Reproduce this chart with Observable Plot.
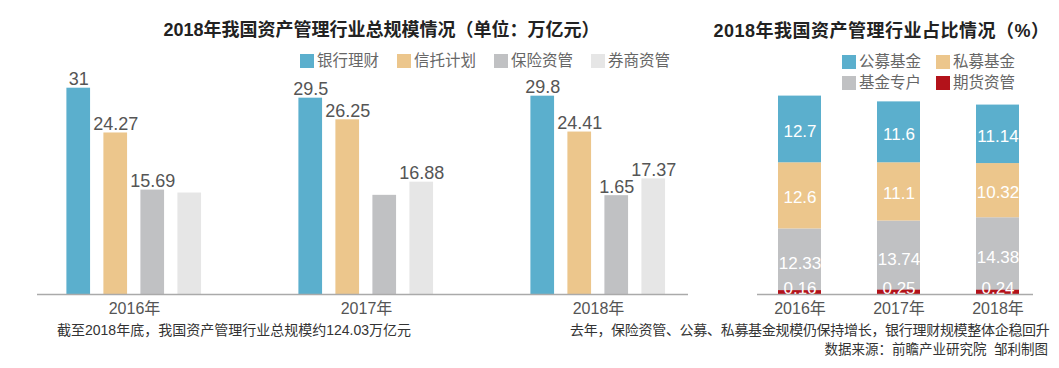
<!DOCTYPE html>
<html><head><meta charset="utf-8">
<script src="https://cdn.jsdelivr.net/npm/d3@7"></script>
<script src="https://cdn.jsdelivr.net/npm/@observablehq/plot@0.6"></script>
<style>
body{margin:0;background:#fff;font-family:"Liberation Sans","Noto Sans CJK SC",sans-serif;}
#page{position:relative;width:1059px;height:368px;overflow:hidden;}
.abs{position:absolute;white-space:nowrap;}
.title{font-size:18px;font-weight:bold;color:#222;line-height:20px;transform:translateX(-50%);}
.legend{display:flex;font-size:15.5px;color:#666;line-height:16px;}
.item{display:flex;align-items:center;}
.sw{width:14px;height:14px;margin-right:3px;}
.cap{font-size:14px;color:#333;line-height:20px;}
#left,#right{position:absolute;top:0;}
#left{left:0;} #right{left:700px;}
</style></head><body>
<div id="page">
  <div id="left"></div>
  <div id="right"></div>
  <div class="abs title" style="left:381.5px;top:20px;">2018年我国资产管理行业总规模情况（单位：万亿元）</div>
  <div class="abs title" style="left:881.5px;top:21px;letter-spacing:0.5px;">2018年我国资产管理行业占比情况（%）</div>
  <div class="abs legend" id="legL" style="left:300px;top:53px;"></div>
  <div class="abs legend" id="legR1" style="left:842px;top:54px;"></div>
  <div class="abs legend" id="legR2" style="left:842px;top:75px;"></div>
  <div class="abs cap" style="left:57px;top:320px;">截至2018年底，我国资产管理行业总规模约124.03万亿元</div>
  <div class="abs cap" style="left:570px;top:320px;letter-spacing:-0.3px;">去年，保险资管、公募、私募基金规模仍保持增长，银行理财规模整体企稳回升</div>
  <div class="abs cap" style="right:11px;top:340px;font-size:13.5px;">数据来源：前瞻产业研究院&nbsp;&nbsp;邹利制图</div>
</div>
<script>
// ---- data: left chart (万亿元) ----
const years = ["2016年", "2017年", "2018年"];
const leftSeries = ["银行理财", "信托计划", "保险资管", "券商资管"];
const bankWealth = [31, 29.5, 29.8];
const trustPlan = [24.27, 26.25, 24.41];
const insurance = [15.69, 14.9, 14.85];
const broker = [15.25, 16.88, 17.37];
const bankLabels = ["31", "29.5", "29.8"];
const trustLabels = ["24.27", "26.25", "24.41"];
const insuranceLabels = ["15.69", "", "1.65"];
const brokerLabels = ["", "16.88", "17.37"];
const leftColors = ["#5BAFCD", "#ECC68C", "#C0C1C3", "#E6E6E6"];

// ---- data: right chart (%) ----
const rightSeries = ["公募基金", "私募基金", "基金专户", "期货资管"];
const publicFund = [12.7, 11.6, 11.14];
const privateFund = [12.6, 11.1, 10.32];
const fundAccount = [12.33, 13.74, 14.38];
const futures = [0.16, 0.25, 0.24];
const rightColors = ["#5BAFCD", "#ECC68C", "#C0C1C3", "#B3121A"];

const fontFamily = '"Liberation Sans","Noto Sans CJK SC",sans-serif';

// ---- left chart ----
const leftVals = [bankWealth, trustPlan, insurance, broker];
const leftLabs = [bankLabels, trustLabels, insuranceLabels, brokerLabels];
const leftRows = leftSeries.map((s, i) => years.map((y, j) => ({year: y, series: s, value: leftVals[i][j], label: leftLabs[i][j]})));
const xRangeL = [17, 714];
const bw = (xRangeL[1] - xRangeL[0]) / years.length;
const barW = 24, barStep = 37, groupInset = 48.4;
const leftMarks = [];
leftRows.forEach((rows, i) => {
  const il = groupInset + barStep * i;
  const ir = bw - il - barW;
  leftMarks.push(Plot.barY(rows, {x: "year", y: "value", fill: leftColors[i], insetLeft: il, insetRight: ir}));
});
leftRows.forEach((rows, i) => {
  const dx = -bw / 2 + groupInset + barStep * i + barW / 2;
  leftMarks.push(Plot.text(rows.filter(d => d.label), {x: "year", y: "value", text: "label", dx, dy: -3, lineAnchor: "bottom", fontSize: 18, fill: "#555"}));
});
leftMarks.push(Plot.ruleY([0], {stroke: "#aaa", strokeWidth: 1.5}));

const leftPlot = Plot.plot({
  width: 700, height: 320,
  marginLeft: 37, marginRight: 12, marginTop: 0, marginBottom: 26,
  style: {background: "transparent", overflow: "visible", fontFamily, fontSize: "16px", color: "#555"},
  x: {domain: years, range: xRangeL, padding: 0, tickSize: 0, tickPadding: 8, label: null},
  y: {domain: [0, 35], range: [294, 294 - 35 * 6.655], axis: null},
  marks: leftMarks
});
document.getElementById("left").appendChild(leftPlot);

// ---- right chart ----
const rightVals = [publicFund, privateFund, fundAccount, futures];
const rightRows = [];
// stack bottom-up: 期货资管, 基金专户, 私募基金, 公募基金
[3, 2, 1, 0].forEach(i => years.forEach((y, j) => rightRows.push({year: y, series: rightSeries[i], value: rightVals[i][j], label: String(rightVals[i][j])})));
const redRows = rightRows.filter(d => d.series === "期货资管");

const rightPlot = Plot.plot({
  width: 359, height: 320,
  marginLeft: 57, marginRight: 26, marginTop: 0, marginBottom: 26,
  style: {background: "transparent", overflow: "visible", fontFamily, fontSize: "16px", color: "#555"},
  x: {domain: years, range: [77.3, 318.7], paddingInner: 0.567, paddingOuter: 0, tickSize: 0, tickPadding: 8, label: null},
  y: {domain: [0, 40], range: [294, 294 - 40 * 5.25], axis: null},
  color: {domain: rightSeries, range: rightColors},
  marks: [
    Plot.barY(rightRows, {x: "year", y: "value", fill: "series", z: "series"}),
    Plot.barY(redRows, {x: "year", y: "value", fill: "series", insetTop: -3}),
    Plot.text(rightRows, Plot.stackY({x: "year", y: "value", z: "series", text: d => d.series === "期货资管" ? null : d.label, fill: "white", fontSize: 17, dy: 2})),
    Plot.text(redRows, Plot.stackY1({x: "year", y: "value", text: "label", fill: "white", fontSize: 17, dy: -6})),
    Plot.ruleY([0], {stroke: "#aaa", strokeWidth: 1.5})
  ]
});
document.getElementById("right").appendChild(rightPlot);

// ---- legends ----
function legendInto(id, names, colors, gap) {
  const el = document.getElementById(id);
  names.forEach((n, i) => {
    const item = document.createElement("div");
    item.className = "item";
    item.style.marginRight = (i < names.length - 1) ? gap + "px" : "0";
    const sw = document.createElement("span");
    sw.className = "sw";
    sw.style.background = colors[i];
    const t = document.createElement("span");
    t.textContent = n;
    item.appendChild(sw); item.appendChild(t);
    el.appendChild(item);
  });
}
legendInto("legL", leftSeries, leftColors, 18);
legendInto("legR1", rightSeries.slice(0, 2), rightColors.slice(0, 2), 15);
legendInto("legR2", rightSeries.slice(2, 4), rightColors.slice(2, 4), 15);
</script>
</body></html>
